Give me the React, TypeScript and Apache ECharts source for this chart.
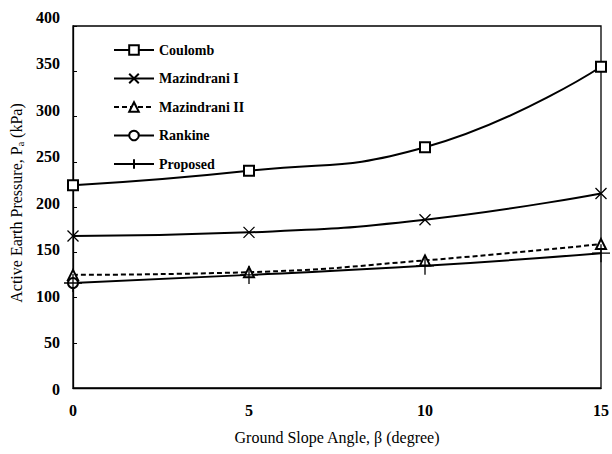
import React, { useEffect, useRef } from "react";
import * as echarts from "echarts";

const slopeAngles = [0, 5, 10, 15];
const coulomb = [224, 240, 266, 355];
const mazindraniI = [168, 172, 186, 215];
const mazindraniII = [125, 128, 141, 159];
const rankine = [116];
const proposed = [116, 125, 135, 149];

const FONT = "'Liberation Serif', 'Times New Roman', serif";
const CROSS = "path://M0,0L10,10M10,0L0,10";
const PLUS = "path://M5,0L5,10M0,5L10,5";

function pairs(vals: number[]) {
  return vals.map((v, i) => [slopeAngles[i], v]);
}

export default function App() {
  const ref = useRef<HTMLDivElement>(null);
  useEffect(() => {
    if (!ref.current) return;
    const chart = echarts.init(ref.current, null, { renderer: "svg" });
    const base = (name: string, vals: number[], symbol: string, size: number, dashed = false) => ({
      name,
      type: "line",
      xAxisIndex: 0,
      yAxisIndex: 0,
      data: pairs(vals),
      smooth: true,
      symbol,
      symbolSize: size,
      showAllSymbol: true,
      lineStyle: { color: "#000", width: 2, type: dashed ? [5, 3] : "solid" },
      itemStyle: { color: "#000", borderColor: "#000", borderWidth: 1.3 },
      emphasis: { disabled: true },
      z: 3,
    });
    chart.setOption({
      animation: false,
      backgroundColor: "#fff",
      grid: [
        { left: 73, right: 8, top: 26, bottom: 66, show: true, borderColor: "#000", borderWidth: 1.3, backgroundColor: "transparent" },
        { left: 73, right: 8, top: 17, bottom: 65 },
      ],
      legend: {
        orient: "vertical",
        left: 108,
        top: 38,
        itemWidth: 40,
        itemHeight: 12,
        itemGap: 14.5,
        textStyle: { fontFamily: FONT, fontWeight: "bold", fontSize: 14, color: "#000" },
        data: ["Coulomb", "Mazindrani I", "Mazindrani II", "Rankine", "Proposed"],
      },
      xAxis: [
        {
          type: "value",
          gridIndex: 0,
          min: 0,
          max: 15,
          interval: 5,
          axisLine: { show: true, lineStyle: { color: "#000", width: 1.3 } },
          axisTick: { show: false },
          splitLine: { show: false },
          axisLabel: { fontFamily: FONT, fontSize: 16, fontWeight: "bold", color: "#000", margin: 14 },
          name: "Ground Slope Angle, β (degree)",
          nameLocation: "middle",
          nameGap: 41,
          nameTextStyle: { fontFamily: FONT, fontSize: 16, color: "#000" },
        },
        {
          type: "value",
          gridIndex: 1,
          min: 0,
          max: 15,
          show: false,
        },
      ],
      yAxis: [
        {
          type: "value",
          gridIndex: 0,
          min: 0,
          max: 400,
          interval: 50,
          axisLine: { show: true, lineStyle: { color: "#000", width: 1.3 } },
          axisTick: { show: true, inside: true, length: 4, lineStyle: { color: "#000" } },
          splitLine: { show: false },
          axisLabel: { show: false },
        },
        {
          type: "value",
          gridIndex: 1,
          min: 0,
          max: 400,
          interval: 50,
          axisLine: { show: false },
          axisTick: { show: false },
          splitLine: { show: false },
          axisLabel: { fontFamily: FONT, fontSize: 16, fontWeight: "bold", color: "#000", margin: 16 },
          name: "Active Earth Pressure, P{s|a} (kPa)",
          nameLocation: "middle",
          nameGap: 50,
          nameTextStyle: {
            fontFamily: FONT,
            fontSize: 16,
            color: "#000",
            rich: { s: { fontFamily: FONT, fontSize: 10, color: "#000", verticalAlign: "bottom", padding: [8, 0, 0, 0] } },
          },
        },
      ],
      series: [
        base("Coulomb", coulomb, "emptyRect", 10),
        base("Mazindrani I", mazindraniI, CROSS, 11),
        base("Mazindrani II", mazindraniII, "emptyTriangle", 10, true),
        base("Rankine", rankine, "emptyCircle", 10),
        base("Proposed", proposed, PLUS, 18),
      ],
    });
    return () => chart.dispose();
  }, []);
  return <div ref={ref} style={{ position: "fixed", left: 0, top: 0, width: 612, height: 454 }} />;
}
